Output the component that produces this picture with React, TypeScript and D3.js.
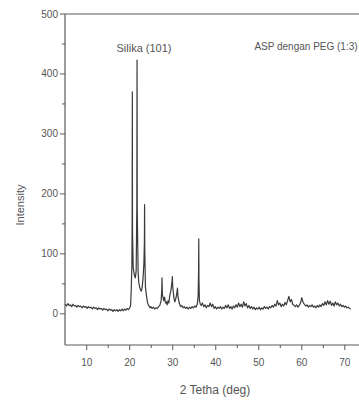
import React from "react";
import * as d3 from "d3";

const twoTheta: number[] = [
  5.0, 5.3, 5.6, 5.9, 6.2, 6.5, 6.8, 7.1, 7.4, 7.7, 8.0, 8.3, 8.6, 8.9, 9.2, 9.5, 9.8,
  10.1, 10.4, 10.7, 11.0, 11.3, 11.6, 11.9, 12.2, 12.5, 12.8, 13.1, 13.4, 13.7, 14.0,
  14.3, 14.6, 14.9, 15.2, 15.5, 15.8, 16.1, 16.4, 16.7, 17.0, 17.3, 17.6, 17.9, 18.2,
  18.5, 18.8, 19.1, 19.4, 19.7, 20.0, 20.2, 20.35, 20.5, 20.56, 20.6, 20.64, 20.8, 20.95, 21.1,
  21.3, 21.5, 21.65, 21.7, 21.75, 21.95, 22.1, 22.3, 22.5, 22.7, 22.9, 23.1, 23.3, 23.41, 23.45,
  23.5, 23.65, 23.9, 24.1, 24.3, 24.5, 24.7, 24.9, 25.2, 25.5, 25.8, 26.1, 26.4, 26.7,
  27.0, 27.3, 27.45, 27.5, 27.6, 27.9, 28.1, 28.3, 28.5, 28.7, 28.9, 29.1, 29.3, 29.6, 29.85,
  29.9, 30.0, 30.3, 30.5, 30.8, 31.05, 31.1, 31.2, 31.5, 31.8, 32.1, 32.4, 32.7, 33.0, 33.3, 33.6,
  33.9, 34.2, 34.5, 34.8, 35.1, 35.4, 35.7, 35.9, 36.0, 36.05, 36.1, 36.2, 36.4, 36.6, 36.9, 37.2,
  37.5, 37.8, 38.1, 38.4, 38.7, 39.0, 39.3, 39.6, 39.9, 40.2, 40.5, 40.8, 41.1, 41.4,
  41.7, 42.0, 42.3, 42.6, 42.9, 43.2, 43.5, 43.8, 44.1, 44.4, 44.7, 45.0, 45.3, 45.6,
  45.9, 46.2, 46.5, 46.8, 47.1, 47.4, 47.7, 48.0, 48.3, 48.6, 48.9, 49.2, 49.5, 49.8,
  50.1, 50.4, 50.7, 51.0, 51.3, 51.6, 51.9, 52.2, 52.5, 52.8, 53.1, 53.4, 53.7, 54.0,
  54.3, 54.6, 54.9, 55.2, 55.5, 55.8, 56.1, 56.4, 56.7, 57.0, 57.3, 57.6, 57.9, 58.2,
  58.5, 58.8, 59.1, 59.4, 59.7, 60.0, 60.3, 60.6, 60.9, 61.2, 61.5, 61.8, 62.1, 62.4,
  62.7, 63.0, 63.3, 63.6, 63.9, 64.2, 64.5, 64.8, 65.1, 65.4, 65.7, 66.0, 66.3, 66.6,
  66.9, 67.2, 67.5, 67.8, 68.1, 68.4, 68.7, 69.0, 69.3, 69.6, 69.9, 70.2, 70.5, 70.8,
  71.1, 71.4,
];

const intensity: number[] = [
  16, 13, 17, 14, 15, 12, 16, 13, 14, 11, 14, 12, 13, 10, 13, 11, 12,
  9, 12, 10, 11, 8, 11, 9, 10, 7, 10, 8, 9, 6, 9,
  7, 8, 5, 8, 6, 7, 4, 7, 5, 7, 4, 7, 5, 8,
  5, 8, 6, 9, 7, 10, 14, 40, 80, 150, 370, 140, 78, 70, 64,
  60, 72, 180, 423, 170, 70, 52, 45, 40, 38, 45, 60, 85, 120, 182,
  105, 45, 30, 20, 15, 13, 10, 12, 9, 11, 8, 10, 9, 12,
  14, 22, 40, 60, 32, 22, 28, 18, 20, 15, 22, 18, 30, 40, 55,
  62, 45, 25, 20, 28, 40, 43, 30, 18, 12, 14, 10, 12, 9, 11, 8,
  11, 9, 12, 10, 13, 11, 16, 30, 70, 125, 55, 22, 16, 14, 18, 12,
  15, 10, 14, 12, 18, 12, 16, 9, 12, 8, 11, 9, 12, 8,
  11, 9, 14, 10, 15, 9, 12, 8, 13, 10, 15, 11, 18, 12,
  16, 11, 20, 13, 17, 10, 14, 9, 12, 8, 11, 7, 10, 8,
  11, 7, 10, 8, 12, 9, 11, 8, 12, 10, 14, 11, 16, 13,
  22, 15, 18, 12, 16, 13, 19, 15, 22, 29, 20, 24, 16, 14,
  12, 15, 11, 14, 18, 27, 19, 16, 13, 15, 11, 14, 12, 15,
  11, 13, 10, 14, 11, 15, 12, 17, 14, 20, 15, 22, 16, 21,
  14, 18, 13, 20, 15, 18, 13, 16, 12, 14, 11, 13, 10, 11,
  9, 8,
];

const xTicks: number[] = [10, 20, 30, 40, 50, 60, 70];
const xMinorTicks: number[] = [15, 25, 35, 45, 55, 65];
const yTicks: number[] = [0, 100, 200, 300, 400, 500];
const yMinorTicks: number[] = [50, 150, 250, 350, 450];

const W = 359;
const H = 400;
const left = 65;
const right = 359;
const top = 14;
const bottom = 345;

export default function App() {
  const x = d3.scaleLinear().domain([4.95, 73.3]).range([left, right]);
  const y = d3.scaleLinear().domain([-52, 500]).range([bottom, top]);
  const pts = twoTheta.map((t, i) => [t, intensity[i]] as [number, number]);
  const line = d3
    .line<[number, number]>()
    .x((d) => x(d[0]))
    .y((d) => y(d[1]));

  const axisColor = "#5a5a5a";
  const textColor = "#555";
  const font = "'Liberation Sans', Arial, sans-serif";

  return (
    <svg
      width={W}
      height={H}
      style={{ position: "absolute", left: 0, top: 0, background: "#fff" }}
      fontFamily={font}
    >
      {/* frame */}
      <line x1={left} x2={right} y1={top} y2={top} stroke={axisColor} strokeWidth={1.2} />
      <line x1={left} x2={left} y1={top} y2={bottom} stroke={axisColor} strokeWidth={1.2} />
      <line x1={left} x2={right} y1={bottom} y2={bottom} stroke={axisColor} strokeWidth={1.2} />

      {/* y ticks */}
      {yTicks.map((v) => (
        <g key={"y" + v}>
          <line x1={left - 5} x2={left} y1={y(v)} y2={y(v)} stroke={axisColor} />
          <text
            x={left - 7}
            y={y(v)}
            dy="0.35em"
            textAnchor="end"
            fontSize={10}
            fill={textColor}
          >
            {v}
          </text>
        </g>
      ))}
      {yMinorTicks.map((v) => (
        <line key={"ym" + v} x1={left - 3} x2={left} y1={y(v)} y2={y(v)} stroke={axisColor} />
      ))}

      {/* x ticks */}
      {xTicks.map((v) => (
        <g key={"x" + v}>
          <line x1={x(v)} x2={x(v)} y1={bottom} y2={bottom + 5} stroke={axisColor} />
          <text x={x(v)} y={bottom + 21} textAnchor="middle" fontSize={10} fill={textColor}>
            {v}
          </text>
        </g>
      ))}
      {xMinorTicks.map((v) => (
        <line key={"xm" + v} x1={x(v)} x2={x(v)} y1={bottom} y2={bottom + 3} stroke={axisColor} />
      ))}

      {/* data */}
      <path d={line(pts) ?? ""} fill="none" stroke="#3a3a3a" strokeWidth={1.2} strokeLinejoin="round" />

      {/* labels */}
      <text x={144} y={52} textAnchor="middle" fontSize={11} fill={textColor}>
        Silika (101)
      </text>
      <text x={306} y={50} textAnchor="middle" fontSize={10} fill={textColor}>
        ASP dengan PEG (1:3)
      </text>
      <text x={215} y={394} textAnchor="middle" fontSize={12} fill={textColor}>
        2 Tetha (deg)
      </text>
      <text
        transform={`translate(24,205) rotate(-90)`}
        textAnchor="middle"
        fontSize={11}
        fill={textColor}
      >
        Intensity
      </text>
    </svg>
  );
}
